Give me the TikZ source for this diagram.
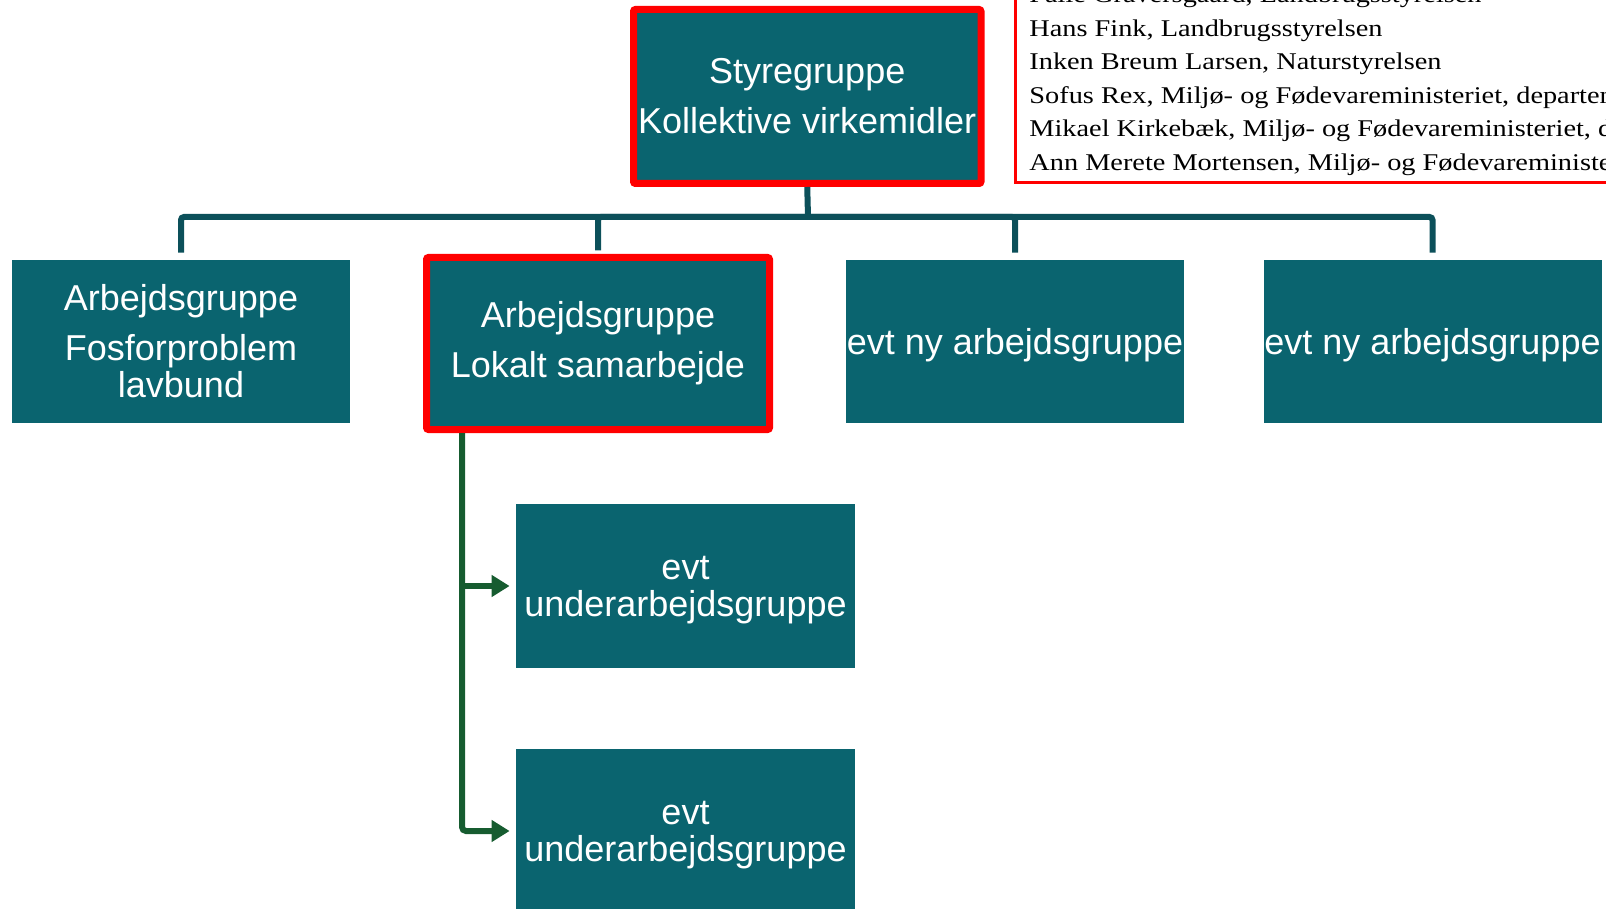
\documentclass[tikz,border=0pt]{standalone}
\usepackage{fontspec}
\setmainfont{Liberation Sans}
\newfontfamily\serifnames[FakeStretch=1.18]{Liberation Serif}
\usetikzlibrary{arrows.meta,calc}
\definecolor{teal1}{RGB}{10,100,111}
\definecolor{conndark}{RGB}{12,80,90}
\definecolor{green1}{RGB}{22,92,48}
\tikzset{
  box/.style={fill=teal1, text=white, inner sep=0pt, minimum width=169pt, minimum height=81.5pt,
    align=center, font=\fontsize{18}{18.5}\selectfont},
  redbox/.style={box, draw=red, line width=3.5pt, rounded corners=1pt},
  conn/.style={draw=conndark, line width=3pt, rounded corners=1.5pt},
  gconn/.style={draw=green1, line width=3pt, rounded corners=2pt, -{Triangle[length=9pt,width=10.5pt]}, shorten >=3pt},
  names/.style={anchor=base west, inner sep=0pt, font=\serifnames\fontsize{12}{12}\selectfont}
}
\begin{document}
\begin{tikzpicture}[x=0.5pt,y=-0.5pt]
\useasboundingbox (0,0) rectangle (1606,909);
\clip (0,0) rectangle (1606,909);

% nodes
\node[redbox, minimum width=173.75pt, minimum height=87pt] (top) at (807.25,96.5) {Styregruppe\\[6.5pt]Kollektive virkemidler};
\node[box] (b1) at (181,341.5) {Arbejdsgruppe\\[6.5pt]Fosforproblem\\lavbund};
\node[redbox, minimum width=171.5pt, minimum height=86pt] (b2) at (598,343.5) {Arbejdsgruppe\\[6.5pt]Lokalt samarbejde};
\node[box, text depth=0pt] (b3) at (1015,341.5) {evt ny arbejdsgruppe};
\node[box, text depth=0pt] (b4) at (1432.5,341.5) {evt ny arbejdsgruppe};
\node[box, text depth=0pt, minimum width=169.5pt, minimum height=82pt] (s1) at (685.5,586) {evt\\underarbejdsgruppe};
\node[box, text depth=0pt, minimum width=169.5pt, minimum height=82pt] (s2) at (685.5,831) {evt\\underarbejdsgruppe};

% top connectors
\coordinate (bar) at (808,217);
\draw[conn] (top.south) -- (bar);
\draw[conn] (bar) -| ([yshift=3.5pt]b1.north);
\draw[conn] (bar) -| ([yshift=1.75pt]b2.north);
\draw[conn] (bar) -| ([yshift=3.5pt]b3.north);
\draw[conn] (bar) -| ([yshift=3.5pt]b4.north);

% green connectors
\coordinate (g0) at (462,433);
\draw[gconn] (g0) |- (s2.west);
\draw[gconn] (g0 |- s1.west) -- (s1.west);

% names frame
\draw[red, line width=1.5pt] (1015,-20) rectangle (1660,183);
\node[names] (n1) at (1029,3) {Palle Graversgaard, Landbrugsstyrelsen};
\node[names] (n2) at (1029,36.5) {Hans Fink, Landbrugsstyrelsen};
\node[names] (n3) at (1029,70) {Inken Breum Larsen, Naturstyrelsen};
\node[names] (n4) at (1029,103.5) {Sofus Rex, Miljø- og Fødevareministeriet, departementet};
\node[names] (n5) at (1029,137) {Mikael Kirkebæk, Miljø- og Fødevareministeriet, departementet};
\node[names] (n6) at (1029,170.5) {Ann Merete Mortensen, Miljø- og Fødevareministeriet, departementet};
\end{tikzpicture}
\end{document}
